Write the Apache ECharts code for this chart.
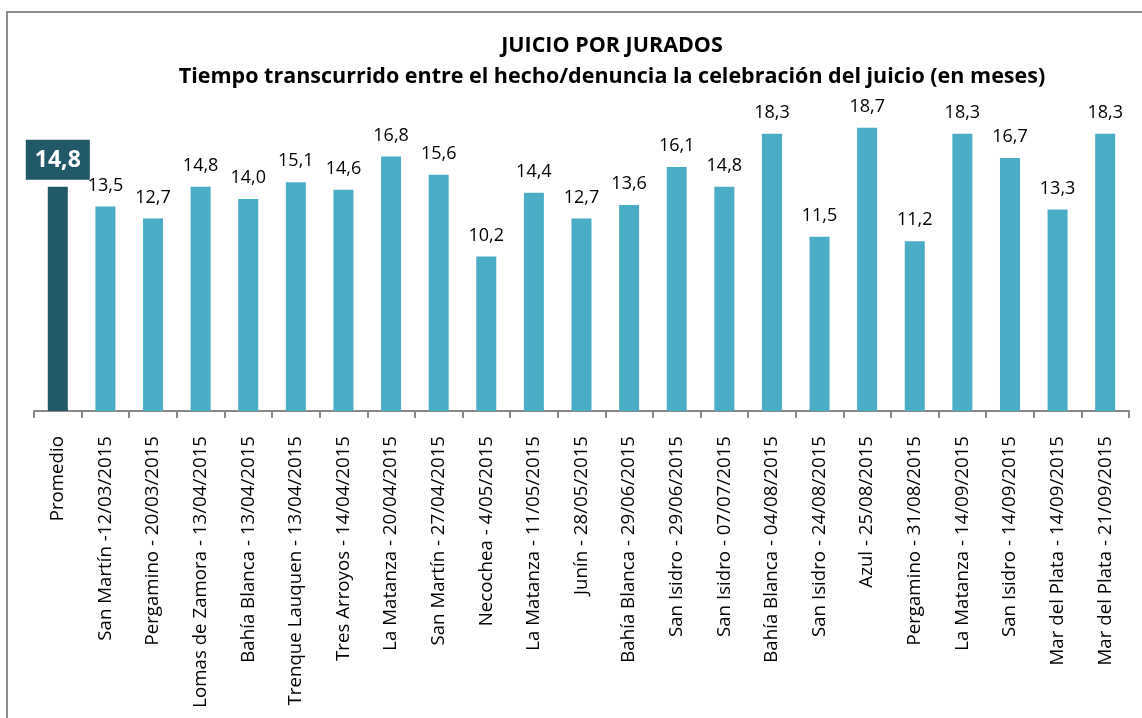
<!DOCTYPE html>
<html><head><meta charset="utf-8">
<script src="https://cdn.jsdelivr.net/npm/echarts@6/dist/echarts.min.js"></script>
<style>html,body{margin:0;padding:0;background:#fff}#c{width:1142px;height:718px}</style>
</head><body><div id="c"></div>
<script>
const categories = ["Promedio","San Martín -12/03/2015","Pergamino - 20/03/2015","Lomas de Zamora - 13/04/2015","Bahía Blanca - 13/04/2015","Trenque Lauquen - 13/04/2015","Tres Arroyos - 14/04/2015","La Matanza - 20/04/2015","San Martín - 27/04/2015","Necochea - 4/05/2015","La Matanza - 11/05/2015","Junín - 28/05/2015","Bahía Blanca - 29/06/2015","San Isidro - 29/06/2015","San Isidro - 07/07/2015","Bahía Blanca - 04/08/2015","San Isidro - 24/08/2015","Azul - 25/08/2015","Pergamino - 31/08/2015","La Matanza - 14/09/2015","San Isidro - 14/09/2015","Mar del Plata - 14/09/2015","Mar del Plata - 21/09/2015"];
const values = [14.8,13.5,12.7,14.8,14.0,15.1,14.6,16.8,15.6,10.2,14.4,12.7,13.6,16.1,14.8,18.3,11.5,18.7,11.2,18.3,16.7,13.3,18.3];
const titleLines = ["JUICIO POR JURADOS","Tiempo transcurrido entre el hecho/denuncia la celebración del juicio (en meses)"];
const FONT = "'Open Sans', sans-serif";
const fmt = v => v.toFixed(1).replace('.', ',');
const data = values.map((v,i) => i === 0 ? {
  value: v,
  itemStyle: {color: '#215968'},
  label: {show: true, position: 'top', distance: 7, color: '#fff', fontWeight: 'bold', fontSize: 23,
    backgroundColor: '#215968', padding: [9, 9, 8, 9], fontFamily: FONT, formatter: p => fmt(p.value)}
} : v);
const chart = echarts.init(document.getElementById('c'));
chart.setOption({
  animation: false,
  backgroundColor: '#fff',
  graphic: [{type: 'rect', shape: {x: 7, y: 12, width: 1145, height: 720}, style: {fill: 'none', stroke: '#8c8c8c', lineWidth: 2}, silent: true}],
  title: {
    text: titleLines[0] + '\n' + titleLines[1],
    left: 607, top: 25, textAlign: 'center',
    textStyle: {fontFamily: FONT, fontWeight: 'bold', fontSize: 21.5, color: '#000', lineHeight: 31}
  },
  grid: {left: 34, right: 13, top: 108, bottom: 307, containLabel: false, outerBoundsMode: 'none'},
  xAxis: {
    type: 'category', data: categories,
    axisLine: {lineStyle: {color: '#888', width: 2}},
    axisTick: {show: true, length: 7, lineStyle: {color: '#888', width: 2}},
    axisLabel: {rotate: 90, interval: 0, margin: 25, color: '#000', fontSize: 18.7, fontFamily: FONT}
  },
  yAxis: {type: 'value', min: 0, max: 20, show: false, splitLine: {show: false}},
  series: [{
    type: 'bar', data: data, barWidth: 20,
    itemStyle: {color: '#4BACC6'},
    label: {show: true, position: 'top', distance: 12, color: '#000', fontSize: 18, fontFamily: FONT, formatter: p => fmt(p.value)}
  }]
});
</script></body></html>
